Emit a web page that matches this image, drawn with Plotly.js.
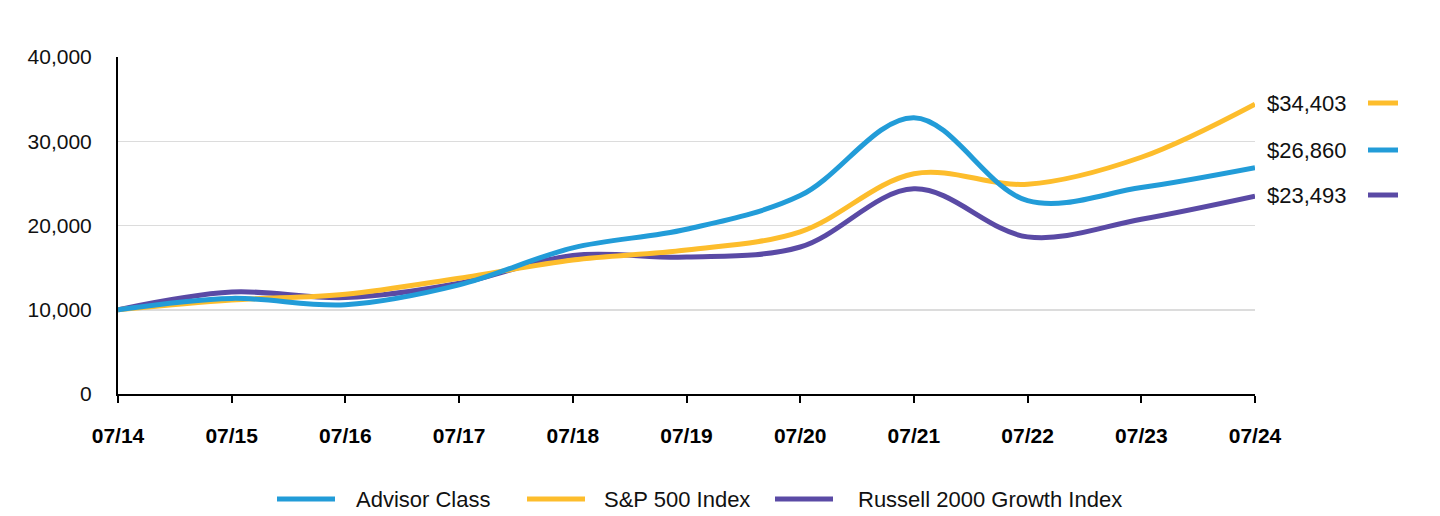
<!DOCTYPE html>
<html>
<head>
<meta charset="utf-8">
<script src="https://cdn.plot.ly/plotly-3.0.1.min.js"></script>
<style>html,body{margin:0;padding:0;background:#fff;}#chart{width:1440px;height:516px;}</style>
</head>
<body>
<div id="chart"></div>
<script>
const categories = ["07/14","07/15","07/16","07/17","07/18","07/19","07/20","07/21","07/22","07/23","07/24"];
const seriesNames = ["Advisor Class","S&P 500 Index","Russell 2000 Growth Index"];
const advisorClass = [10000,11350,10600,12950,17350,19550,23550,32800,22950,24500,26860];
const sp500 = [10000,11150,11850,13750,15900,17100,19250,26150,24900,28100,34403];
const russell2000G = [10000,12100,11450,13150,16450,16250,17450,24350,18650,20750,23493];
const endLabels = ["$26,860","$34,403","$23,493"];
const colors = ["#229cd8","#fdbd2c","#5a4aa5"];

const seriesValues = [advisorClass, sp500, russell2000G];
const FONT = "Arial, 'Liberation Sans', sans-serif";

const traces = seriesValues.map((vals, i) => ({
  type: "scatter", mode: "lines", name: seriesNames[i],
  x: categories, y: vals,
  line: {color: colors[i], width: 5, shape: "spline", smoothing: 1},
  showlegend: false, hoverinfo: "x+y"
}));
const ordered = [traces[2], traces[1], traces[0]];

const L = 118, R = 1255, T = 57, B = 394;
const px = v => (v - L) / (R - L);
const py = v => (B - v) / (B - T);

const annotations = [];
const shapes = [];
const labelY = [150, 103, 195];
for (let i = 0; i < 3; i++) {
  annotations.push({xref: "paper", yref: "paper", x: px(1265), y: py(labelY[i]), xanchor: "left", yanchor: "middle",
    text: endLabels[i], showarrow: false, font: {family: FONT, size: 22, color: "#111"}});
  shapes.push({type: "line", xref: "paper", yref: "paper", x0: px(1368), x1: px(1398), y0: py(labelY[i]), y1: py(labelY[i]),
    line: {color: colors[i], width: 5}});
}
const legX = [[277,335,354],[527,585,602],[775,833,856]];
const legY = 499;
for (let i = 0; i < 3; i++) {
  shapes.push({type: "line", xref: "paper", yref: "paper", x0: px(legX[i][0]), x1: px(legX[i][1]), y0: py(legY), y1: py(legY),
    line: {color: colors[i], width: 5}});
  annotations.push({xref: "paper", yref: "paper", x: px(legX[i][2]), y: py(legY), xanchor: "left", yanchor: "middle",
    text: seriesNames[i].replace("&", "&amp;"), showarrow: false, font: {family: FONT, size: 22, color: "#111"}});
}

const layout = {
  width: 1440, height: 516,
  margin: {l: L, r: 1440 - R, t: T, b: 516 - B},
  paper_bgcolor: "#fff", plot_bgcolor: "#fff",
  font: {family: FONT, size: 21, color: "#111"},
  showlegend: false,
  xaxis: {
    type: "category", range: [0, 10], showgrid: false, zeroline: false,
    showline: true, linecolor: "#000", linewidth: 2,
    ticks: "outside", ticklen: 7, tickwidth: 2, tickcolor: "#000",
    tickfont: {family: FONT, size: 21, color: "#000", weight: "bold"},
    ticklabelstandoff: 15
  },
  yaxis: {
    range: [0, 40000], tickvals: [0,10000,20000,30000,40000], tickformat: ",",
    showgrid: true, gridcolor: "#dcdcdc", gridwidth: 1.5, zeroline: false,
    showline: true, linecolor: "#000", linewidth: 2, ticks: "",
    tickfont: {family: FONT, size: 21, color: "#111"},
    ticklabelstandoff: 20
  },
  annotations: annotations, shapes: shapes
};

Plotly.newPlot("chart", ordered, layout, {displayModeBar: false, staticPlot: true});
</script>
</body>
</html>
